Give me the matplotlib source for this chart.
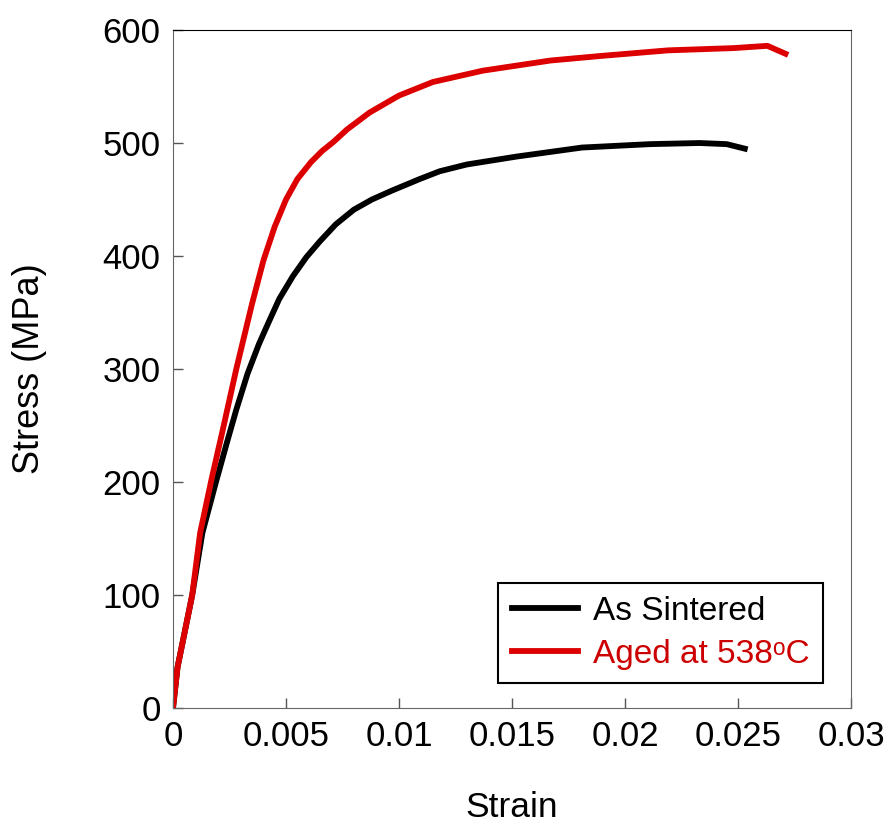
import numpy as np
import matplotlib
matplotlib.use("Agg")
from matplotlib import pyplot as plt

plt.rcParams['font.family'] = ['Liberation Sans', 'DejaVu Sans']

# As Sintered (strain, stress MPa)
sint_strain = [0, 0.0002, 0.00085, 0.0013, 0.0019, 0.0024, 0.0028, 0.0033,
               0.0038, 0.0042, 0.0047, 0.0053, 0.0059, 0.0065, 0.0072, 0.008, 0.0088,
               0.0097, 0.0109, 0.0118, 0.013, 0.0152, 0.0181, 0.0211, 0.0233, 0.0245, 0.0253]
sint_stress = [0, 36, 100, 155, 200, 236, 264, 296,
               322, 340, 362, 382, 399, 413, 428, 441, 450,
               458, 468, 475, 481, 488, 496, 499, 500, 499, 495]

# Aged at 538C
aged_strain = [0, 0.0002, 0.00085, 0.0012, 0.0017, 0.0022, 0.0025, 0.0028, 0.0035,
               0.004, 0.0045, 0.005, 0.0055, 0.0061, 0.0066, 0.0071, 0.0077, 0.0087,
               0.01, 0.0115, 0.0137, 0.0167, 0.0189, 0.0219, 0.0248, 0.0263, 0.0271]
aged_stress = [0, 36, 100, 155, 202, 246, 273, 300, 358,
               396, 426, 450, 468, 483, 493, 501, 512, 527,
               542, 554, 564, 573, 577, 582, 584, 586, 579]

fig = plt.figure(figsize=(8.9, 8.27), dpi=100)
ax = fig.add_axes([0.1944, 0.1439, 0.7618, 0.8198])

ax.plot(sint_strain, sint_stress, color="black", lw=4.2, label="As Sintered")
ax.plot(aged_strain, aged_stress, color="#dd0000", lw=4.2, label="Aged at 538\u1d52C")

ax.set_xlim(0, 0.03)
ax.set_ylim(0, 600)
ax.set_xticks([0, 0.005, 0.01, 0.015, 0.02, 0.025, 0.03])
ax.set_xticklabels(["0", "0.005", "0.01", "0.015", "0.02", "0.025", "0.03"])
ax.set_yticks([0, 100, 200, 300, 400, 500, 600])
ax.tick_params(direction="in", length=7, width=1, labelsize=25, color="#555555")
ax.tick_params(axis="x", pad=9)
ax.tick_params(axis="y", pad=9)
for s in ["left", "bottom", "right"]:
    ax.spines[s].set_color("#666666")
ax.spines["top"].set_color("black")

ax.set_xlabel("Strain", fontsize=25.5, labelpad=27)
ax.set_ylabel("Stress (MPa)", fontsize=26, labelpad=40)

leg = ax.legend(loc="lower right", bbox_to_anchor=(0.959, 0.037), fontsize=24,
                fancybox=False, framealpha=1, edgecolor="black", handlelength=2.0,
                handletextpad=0.45, borderpad=0.4, labelspacing=0.35, borderaxespad=0)
leg.get_frame().set_linewidth(1.5)
for t, c in zip(leg.get_texts(), ["black", "#cc0000"]):
    t.set_color(c)

fig.savefig("out.png", dpi=100)
